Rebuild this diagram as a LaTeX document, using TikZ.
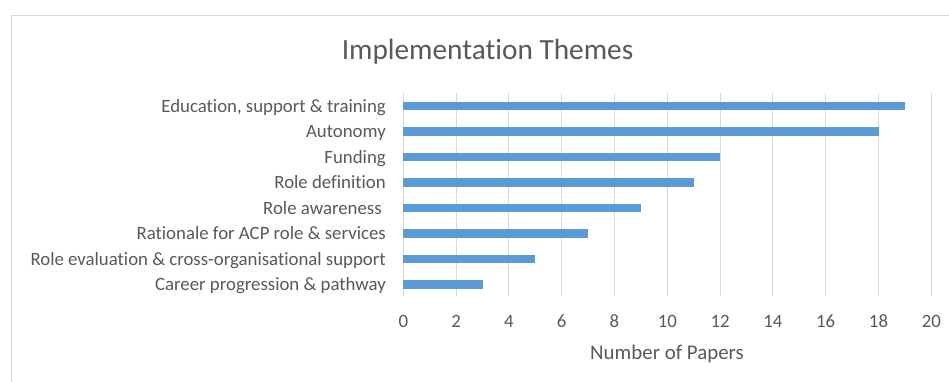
\documentclass[tikz,border=0pt]{standalone}
\usepackage{fontspec}
\setmainfont[Ligatures={NoCommon}]{Carlito}
\definecolor{barblue}{HTML}{5B9BD5}
\definecolor{txtgray}{HTML}{595959}
\definecolor{gridgray}{HTML}{D9D9D9}
\begin{document}
\begin{tikzpicture}[x=1pt,y=-1pt,
  catlbl/.style={anchor=base east, inner sep=0pt, text=txtgray, font=\fontsize{18.8}{22}\selectfont},
  ticklbl/.style={anchor=base, inner sep=0pt, text=txtgray, font=\fontsize{18.8}{22}\selectfont},
  axtitle/.style={anchor=base, inner sep=0pt, text=txtgray, font=\fontsize{20.9}{24}\selectfont},
  charttitle/.style={anchor=base, inner sep=0pt, text=txtgray, font=\fontsize{29.3}{34}\selectfont},
  gridline/.style={draw=gridgray, line width=1pt},
  barfill/.style={fill=barblue}]
\useasboundingbox (0,0) rectangle (949,382);
\fill[white] (0,0) rectangle (949,382);
\draw[gridline] (11,382) -- (11,16) -- (949,16);
\node[charttitle] (title) at (487.5,59.5) {Implementation Themes};
\foreach \k in {0,2,...,20} {
  \draw[gridline] ({403.3+26.4*\k},93) -- ({403.3+26.4*\k},296);
  \node[ticklbl] (tick\k) at ({403.3+26.4*\k},327.7) {\k};
}
\foreach \v/\i in {19/0,18/1,12/2,11/3,9/4,7/5,5/6,3/7} {
  \fill[barfill] (403.3,{106+25.47*\i-4.3}) rectangle ({403.3+26.4*\v},{106+25.47*\i+4.3});
}
\node[catlbl] (c0) at (386,{106+6.2}) {Education, support \& training};
\node[catlbl] (c1) at (386,{106+25.47+6.2}) {Autonomy};
\node[catlbl] (c2) at (386,{106+25.47*2+6.2}) {Funding};
\node[catlbl] (c3) at (386,{106+25.47*3+6.2}) {Role definition};
\node[catlbl] (c4) at (381.8,{106+25.47*4+6.2}) {Role awareness};
\node[catlbl] (c5) at (386,{106+25.47*5+6.2}) {Rationale for ACP role \& services};
\node[catlbl] (c6) at (386,{106+25.47*6+6.2}) {Role evaluation \& cross-organisational support};
\node[catlbl] (c7) at (386,{106+25.47*7+6.2}) {Career progression \& pathway};
\node[axtitle] (xtitle) at (667,359) {Number of Papers};
\end{tikzpicture}
\end{document}
